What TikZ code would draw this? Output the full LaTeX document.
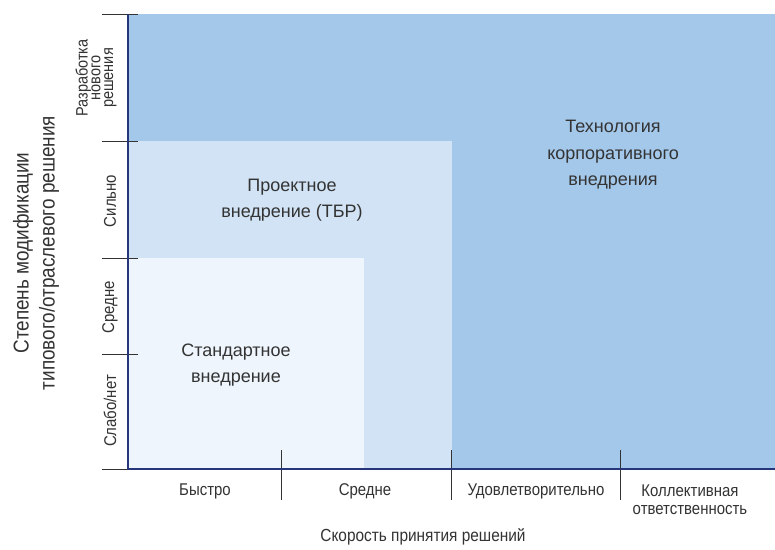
\documentclass[tikz,border=0pt]{standalone}
\usepackage{fontspec}
\setmainfont{Liberation Sans}
\newfontfamily\narrowfont[FakeStretch=0.88]{Liberation Sans}
\usetikzlibrary{positioning}
\definecolor{corpblue}{HTML}{A4C8EA}
\definecolor{tbrblue}{HTML}{D1E3F4}
\definecolor{stdblue}{HTML}{EEF5FC}
\definecolor{axisnavy}{HTML}{27357A}
\definecolor{textgray}{HTML}{333333}

\begin{document}
\begin{tikzpicture}[x=1pt, y=-1pt, line width=1.2pt]
	\tikzstyle{zone label} = [text=textgray, align=center, font=\fontsize{18}{26.5}\selectfont];
	\tikzstyle{axis label} = [text=textgray, align=center, font=\narrowfont\fontsize{17}{18}\selectfont];
	\tikzstyle{axis title} = [text=textgray, align=center, font=\narrowfont\fontsize{17.5}{26}\selectfont];
	\tikzstyle{tick} = [draw=black!80, line width=1pt];

	\useasboundingbox [fill=white] (0,0) rectangle (775,549);

	% zones
	\fill [corpblue] (128,14) rectangle (775,469);
	\fill [tbrblue]  (128,141) rectangle (452,469);
	\fill [stdblue]  (128,258) rectangle (364,469);

	% axes
	\coordinate (origin) at (128,469);
	\coordinate (ytop)   at (128,14);
	\coordinate (xend)   at (775,469);
	\foreach \y in {14,141,258,354,469}
		\draw [tick] (102,\y) -- (138,\y);
	\foreach \x in {281,451,620}
		\draw [tick] (\x,450) -- (\x,500);
	\draw [axisnavy] (ytop) -- (origin) -- (xend);

	% zone texts
	\node [zone label] (corp) at (613,155) {Технология\\корпоративного\\внедрения};
	\node [zone label] (tbr)  at (292,200) {Проектное\\внедрение (ТБР)};
	\node [zone label] (std)  at (236,365) {Стандартное\\внедрение};

	% y axis
	\node [axis label, rotate=90, font=\narrowfont\fontsize{16.5}{12.8}\selectfont] (ynew) at (96,78) {Разработка\\нового\\решения};
	\node [axis label, rotate=90] (ystr)  at (110,201) {Сильно};
	\node [axis label, rotate=90] (ymid)  at (110,307) {Средне};
	\node [axis label, rotate=90] (yweak) at (110,411) {Слабо/нет};
	\node [axis title, rotate=90, font=\narrowfont\fontsize{21.5}{26}\selectfont] (ytitle) at (36,253) {Степень модификации\\типового/отраслевого решения};

	% x axis
	\node [axis label] (xfast) at (205,491) {Быстро};
	\node [axis label] (xmid)  at (365,491) {Средне};
	\node [axis label] (xok)   at (536,491) {Удовлетворительно};
	\node [axis label] (xcoll) at (690,500) {Коллективная\\ответственность};
	\node [axis title] (xtitle) at (423,537) {Скорость принятия решений};
\end{tikzpicture}
\end{document}
